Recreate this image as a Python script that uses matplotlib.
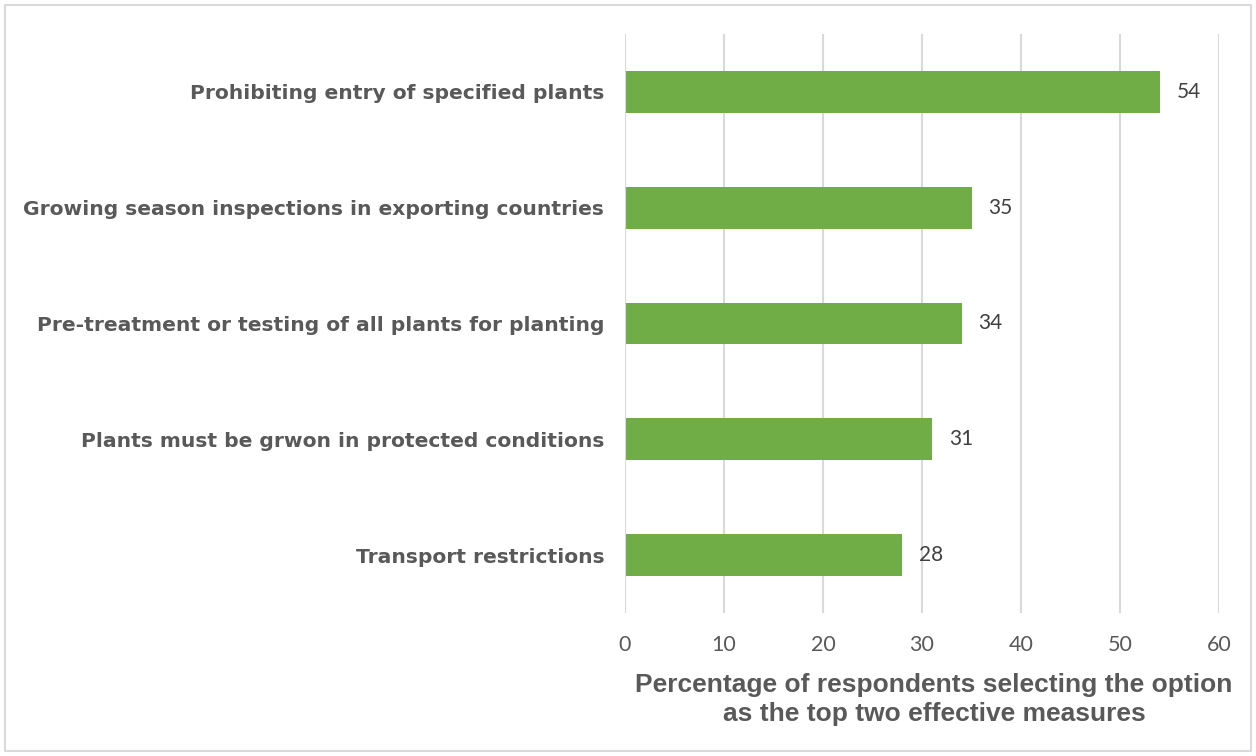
import matplotlib
matplotlib.use("Agg")
import matplotlib.pyplot as plt
from matplotlib.patches import Rectangle

categories = [
    "Prohibiting entry of specified plants",
    "Growing season inspections in exporting countries",
    "Pre-treatment or testing of all plants for planting",
    "Plants must be grwon in protected conditions",
    "Transport restrictions",
]
values = [54, 35, 34, 31, 28]
xticks = [0, 10, 20, 30, 40, 50, 60]
xlabel = "Percentage of respondents selecting the option\nas the top two effective measures"

bar_color = "#70AD47"
text_gray = "#595959"
grid_gray = "#D9D9D9"

fig = plt.figure(figsize=(12.56, 7.56), dpi=100)
fig.patch.set_facecolor("white")
fig.add_artist(Rectangle((5 / 1256, 5 / 756), 1 - 10 / 1256, 1 - 10 / 756,
                         transform=fig.transFigure, fill=False,
                         edgecolor="#D9D9D9", linewidth=1.5))

ax = fig.add_axes([625 / 1256, 1 - 613 / 756, (1219 - 625) / 1256, (613 - 34) / 756])
pos = list(range(len(categories)))
ax.barh(pos, values, height=0.36, color=bar_color, zorder=3)
ax.set_ylim(len(categories) - 0.5, -0.5)
ax.set_xlim(0, 60)
ax.set_xticks(xticks)
ax.set_xticklabels([str(t) for t in xticks], fontfamily="Lato", fontsize=15.5, color=text_gray)
ax.set_yticks(pos)
ax.set_yticklabels(categories, fontfamily="DejaVu Sans", fontweight="bold",
                   fontsize=14.6, color=text_gray)
ax.tick_params(axis="y", length=0, pad=15)
ax.tick_params(axis="x", length=0, pad=16)
ax.grid(axis="x", color=grid_gray, linewidth=1.5, zorder=0)
for s in ax.spines.values():
    s.set_visible(False)
ax.axvline(0, color=grid_gray, linewidth=1.5, zorder=4)

for p, v in zip(pos, values):
    ax.text(v + 1.7, p, str(v), va="center", ha="left", fontfamily="Lato",
            fontsize=15, color="#404040", zorder=5)

ax.set_xlabel(xlabel, fontfamily="Liberation Sans", fontweight="bold", fontsize=19,
              color=text_gray, labelpad=13, linespacing=1.25)
ax.xaxis.label.set_x(0.52)

fig.savefig("out.png", dpi=100, facecolor="white")
